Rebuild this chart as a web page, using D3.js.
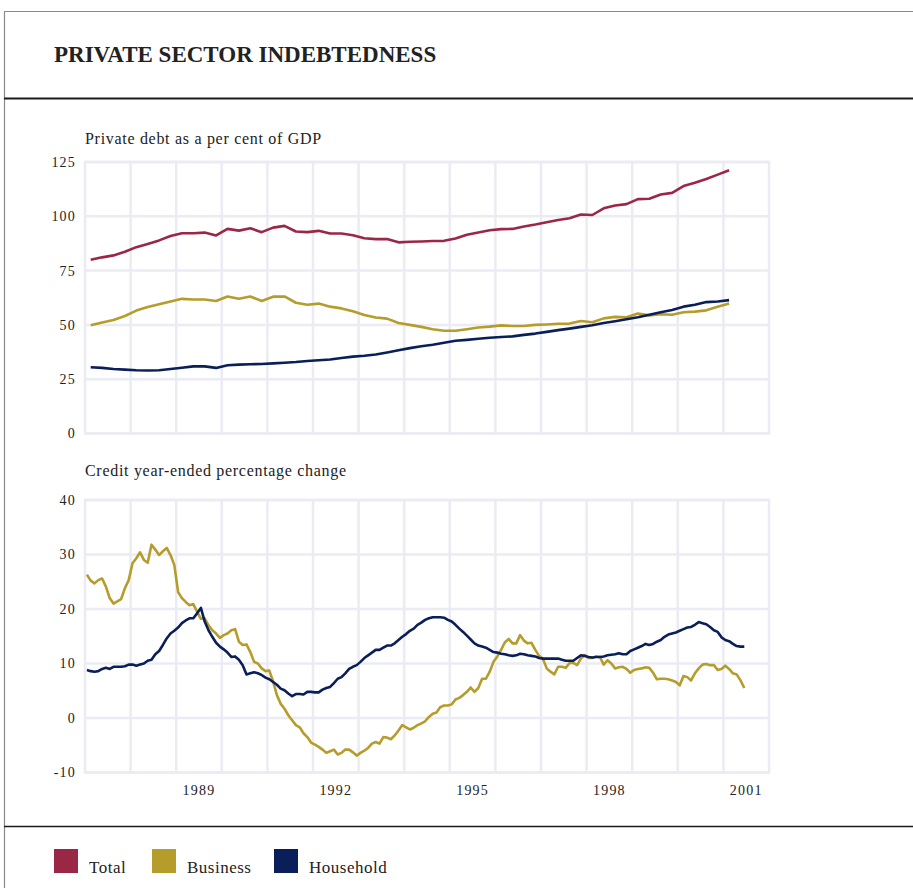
<!DOCTYPE html>
<html>
<head>
<meta charset="utf-8">
<script src="https://cdn.jsdelivr.net/npm/d3@7"></script>
<style>
  body { margin: 0; background: #fff; }
  text { font-family: "Liberation Serif", "DejaVu Serif", serif; fill: #222; }
</style>
</head>
<body>
<svg id="chart" width="913" height="888"></svg>
<script>
// ---- data ----
const seriesNames = ["Total", "Business", "Household"];
const seriesColors = ["#9b2747", "#b69c2b", "#0a1f59"];

// quarterly, private debt as % of GDP, 1987 Q1 .. 2001 Q1
const debtTotal = [80, 81.1, 82, 83.7, 85.8, 87.3, 88.9, 90.9, 92.2, 92.2, 92.5, 91.2, 94.2, 93.4, 94.5, 92.7,
  94.8, 95.6, 93, 92.7, 93.3, 92.1, 92.1, 91.3, 89.9, 89.5, 89.5, 88, 88.3, 88.4,
  88.6, 88.7, 89.8, 91.5, 92.5, 93.6, 94.1, 94.2, 95.3, 96.2, 97.3, 98.3, 99.1, 100.8, 100.6, 103.7,
  105, 105.6, 107.9, 108.1, 110, 110.8, 113.9, 115.4, 117.2, 119.2, 121.2];
const debtBusiness = [49.8, 51.1, 52.3, 54.1, 56.6, 58.2, 59.5, 60.8, 62, 61.7, 61.7, 61, 63.1, 62, 63.1, 61,
  63, 63.1, 60.2, 59.3, 59.8, 58.4, 57.6, 56.3, 54.6, 53.4, 52.9, 50.9, 50, 49.1,
  48, 47.3, 47.3, 48, 48.8, 49.2, 49.8, 49.5, 49.5, 50, 50.2, 50.5, 50.6, 51.8, 51.2, 53,
  53.7, 53.5, 55.2, 54.4, 54.9, 54.7, 55.8, 56.1, 56.7, 58.4, 59.9];
const debtHousehold = [30.5, 30.2, 29.7, 29.4, 29.1, 29, 29.1, 29.7, 30.3, 30.9, 30.9, 30.2, 31.4, 31.7, 31.9, 32,
  32.3, 32.6, 32.9, 33.4, 33.7, 34.1, 34.8, 35.4, 35.8, 36.4, 37.3, 38.3, 39.3, 40.2,
  40.9, 41.8, 42.7, 43.1, 43.6, 44.1, 44.4, 44.7, 45.4, 46, 46.8, 47.6, 48.3, 49.1, 49.8, 50.9,
  51.7, 52.6, 53.5, 54.7, 55.8, 56.9, 58.4, 59.3, 60.5, 60.8, 61.4];

// monthly, credit year-ended % change, Jan 1987 .. Jun 2001
const creditBusiness = [26.3, 25.2, 24.7, 25.3, 25.6, 24.1, 22, 21, 21.4, 21.8, 23.8, 25.3,
  28.4, 29.3, 30.4, 29, 28.5, 31.8, 30.9, 29.9, 30.6, 31.2, 29.9, 28.1,
  23.1, 22, 21.3, 20.7, 20.9, 19.5, 18.2, 18.3, 17, 16.1, 15.5, 14.7,
  15.2, 15.5, 16.1, 16.3, 14, 13.4, 13.5, 12.1, 10.3, 10, 9.1, 8.6,
  8.7, 6.7, 4.2, 2.6, 1.7, 0.5, -0.4, -1.3, -1.7, -2.8, -3.5, -4.5,
  -4.9, -5.3, -5.8, -6.4, -6.1, -5.8, -6.7, -6.4, -5.8, -5.8, -6.3, -6.9,
  -6.4, -6, -5.5, -4.7, -4.4, -4.7, -3.5, -3.6, -3.9, -3.2, -2.3, -1.3,
  -1.7, -2.1, -1.8, -1.3, -1, -0.6, 0.2, 0.8, 1, 2, 2.3, 2.3,
  2.5, 3.4, 3.7, 4.2, 4.8, 5.6, 4.8, 5.5, 7.2, 7.2, 8.5, 10.3,
  11.3, 12.5, 13.9, 14.5, 13.7, 13.7, 15.2, 14.2, 13.7, 13.8, 12.5, 11.4,
  10.9, 9.1, 8.5, 8, 9.4, 9.4, 9.2, 10.1, 10.1, 9.7, 10.9, 11.5,
  11, 11, 11.3, 11.2, 9.8, 10.6, 10, 9.1, 9.3, 9.4, 9, 8.3,
  8.8, 9, 9.1, 9.3, 9.2, 8.3, 7.1, 7.2, 7.2, 7.1, 6.9, 6.6,
  6, 7.7, 7.5, 6.9, 8.2, 9.1, 9.8, 9.9, 9.7, 9.7, 8.8, 9,
  9.6, 9, 8.2, 8, 6.9, 5.5];
const creditHousehold = [8.8, 8.6, 8.5, 8.6, 9, 9.2, 9, 9.4, 9.4, 9.4, 9.5, 9.8,
  9.8, 9.6, 9.8, 10, 10.5, 10.7, 11.7, 12.3, 13.4, 14.6, 15.5, 16,
  16.6, 17.4, 17.9, 18.3, 18.3, 19.2, 20.2, 17.7, 16.1, 14.9, 13.8, 13.1,
  12.6, 12, 11.2, 11.3, 10.7, 9.7, 8, 8.2, 8.4, 8.2, 7.9, 7.4,
  7.1, 6.6, 6.1, 5.4, 5.1, 4.5, 4, 4.4, 4.4, 4.3, 4.8, 4.8,
  4.7, 4.7, 5.2, 5.5, 5.7, 6.4, 7.2, 7.5, 8.2, 9, 9.4, 9.7,
  10.3, 11, 11.5, 12, 12.5, 12.5, 12.9, 13.3, 13.3, 13.7, 14.3, 14.9,
  15.4, 16, 16.4, 17.1, 17.5, 18, 18.3, 18.5, 18.5, 18.5, 18.4, 18,
  17.7, 17.1, 16.4, 15.8, 15.1, 14.4, 13.7, 13.3, 13.1, 12.9, 12.5, 12.1,
  12, 11.8, 11.7, 11.5, 11.4, 11.5, 11.8, 11.7, 11.5, 11.4, 11.3, 11,
  10.9, 10.9, 10.9, 10.9, 10.9, 10.7, 10.5, 10.5, 10.5, 11, 11.5, 11.4,
  11.2, 11.1, 11.2, 11.2, 11.3, 11.5, 11.6, 11.7, 11.9, 11.7, 11.7, 12.3,
  12.6, 12.9, 13.2, 13.6, 13.4, 13.6, 14, 14.3, 14.9, 15.3, 15.5, 15.7,
  16, 16.3, 16.6, 16.7, 17.1, 17.6, 17.4, 17.2, 16.7, 16.1, 15.8, 14.8,
  14.3, 14.1, 13.6, 13.2, 13.1, 13.1];

const debtTicks = [0, 25, 50, 75, 100, 125];
const creditTicks = [-10, 0, 10, 20, 30, 40];
const yearLabels = [1989, 1992, 1995, 1998, 2001];
const yearGrid = d3.range(1988, 2002);

// ---- layout ----
const svg = d3.select("#chart");
const gridColor = "#ebecf3";
const x = d3.scaleLinear().domain([1987, 2002]).range([85, 769]);

// dates: mid-quarter / mid-month as decimal years
const quarterT = debtTotal.map((d, i) => 1987.125 + i * 0.25);
const monthT = creditBusiness.map((d, i) => 1987 + (i + 0.5) / 12);

// outer frame and separators
svg.append("path").attr("d", "M4.5,888 V11.5 H913")
    .attr("fill", "none").attr("stroke", "#8a8a8a").attr("stroke-width", 1.2);
svg.append("line").attr("x1", 4).attr("x2", 913).attr("y1", 98.5).attr("y2", 98.5)
    .attr("stroke", "#1a1a1a").attr("stroke-width", 2);
svg.append("line").attr("x1", 4).attr("x2", 913).attr("y1", 826.5).attr("y2", 826.5)
    .attr("stroke", "#1a1a1a").attr("stroke-width", 1.6);

svg.append("text").attr("x", 54).attr("y", 62)
    .attr("font-size", 23).attr("font-weight", "bold")
    .text("PRIVATE SECTOR INDEBTEDNESS");

function panel(top, bottom, titleY, ticks, title, series, times) {
    const y = d3.scaleLinear().domain([ticks[0], ticks[ticks.length - 1]]).range([bottom, top]);
    const g = svg.append("g");

    g.append("text").attr("x", 85).attr("y", titleY)
        .attr("font-size", 16).attr("letter-spacing", 0.7).text(title);

    // grid
    g.selectAll("line.h").data(ticks).join("line")
        .attr("x1", x(1987)).attr("x2", x(2002))
        .attr("y1", d => y(d)).attr("y2", d => y(d))
        .attr("stroke", gridColor).attr("stroke-width", 2.5);
    g.selectAll("line.v").data(yearGrid).join("line")
        .attr("x1", d => x(d)).attr("x2", d => x(d))
        .attr("y1", top).attr("y2", bottom)
        .attr("stroke", gridColor).attr("stroke-width", 2.5);
    g.append("rect").attr("x", x(1987)).attr("y", top)
        .attr("width", x(2002) - x(1987)).attr("height", bottom - top)
        .attr("fill", "none").attr("stroke", gridColor).attr("stroke-width", 2.5);

    // y tick labels
    g.selectAll("text.tick").data(ticks).join("text")
        .attr("x", 76).attr("y", d => y(d)).attr("dy", "0.35em")
        .attr("text-anchor", "end").attr("font-size", 14)
        .attr("letter-spacing", 1.2).text(d => d);

    const line = d3.line().x((d, i) => x(times[i])).y(d => y(d));
    series.forEach(s => {
        g.append("path").datum(s.values)
            .attr("fill", "none").attr("stroke", s.color)
            .attr("stroke-width", 2.6).attr("stroke-linejoin", "round")
            .attr("d", line);
    });
    return y;
}

panel(162, 433.5, 144, debtTicks, "Private debt as a per cent of GDP", [
    { values: debtBusiness, color: seriesColors[1] },
    { values: debtHousehold, color: seriesColors[2] },
    { values: debtTotal, color: seriesColors[0] }
], quarterT);

panel(500, 772.5, 476, creditTicks, "Credit year-ended percentage change", [
    { values: creditBusiness, color: seriesColors[1] },
    { values: creditHousehold, color: seriesColors[2] }
], monthT);

// x labels centred on the year
svg.selectAll("text.year").data(yearLabels).join("text")
    .attr("x", d => x(d + 0.5)).attr("y", 795)
    .attr("text-anchor", "middle").attr("font-size", 14)
    .attr("letter-spacing", 1.2).text(d => d);

// legend
const legendX = [54, 152, 274];
const legend = svg.selectAll("g.legend").data(seriesNames).join("g")
    .attr("transform", (d, i) => `translate(${legendX[i]}, 849)`);
legend.append("rect").attr("width", 24).attr("height", 24)
    .attr("fill", (d, i) => seriesColors[i]);
legend.append("text").attr("x", 35).attr("y", 24)
    .attr("font-size", 17).attr("letter-spacing", 0.5).text(d => d);
</script>
</body>
</html>
